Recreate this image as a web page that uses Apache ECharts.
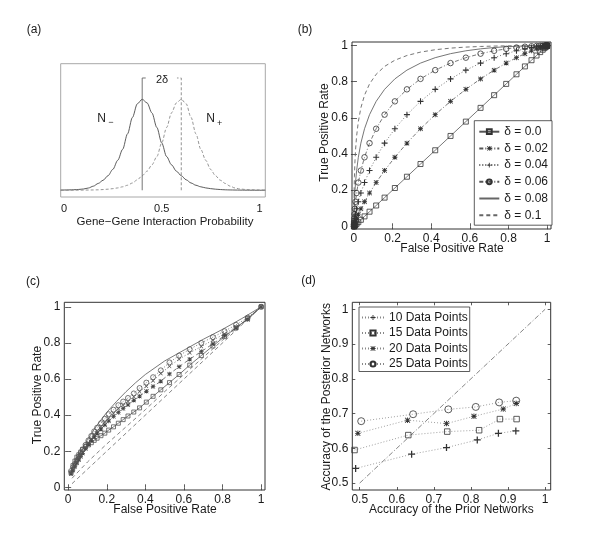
<!DOCTYPE html>
<html><head><meta charset="utf-8">
<script src="https://cdn.jsdelivr.net/npm/echarts@6/dist/echarts.min.js"></script>
<style>html,body{margin:0;padding:0;background:#fff}#c{width:600px;height:551px}</style>
</head><body><div id="c"></div>
<script>
// ---------- Panel (a): densities ----------
const aX = [-0.017,0,0.025,0.05,0.075,0.1,0.125,0.15,0.175,0.2,0.225,0.25,0.275,0.3,0.325,0.35,0.375,0.4,0.425,0.45,0.475,0.5,0.525,0.55,0.575,0.6,0.625,0.65,0.675,0.7,0.725,0.75,0.775,0.8,0.825,0.85,0.875,0.9,0.925,0.95,0.975,1,1.03];
const negDensity = [0.002,0.003,0.004,0.006,0.009,0.014,0.025,0.045,0.075,0.11,0.16,0.23,0.33,0.45,0.62,0.8,0.95,1.0,0.96,0.85,0.69,0.52,0.37,0.28,0.21,0.16,0.115,0.08,0.055,0.038,0.026,0.018,0.012,0.008,0.005,0.0035,0.0025,0.0018,0.0012,0.0008,0.0005,0.0003,0.0002];
const posDensity = [0.0002,0.0003,0.0005,0.0008,0.0012,0.0018,0.0025,0.0035,0.005,0.008,0.012,0.018,0.026,0.038,0.055,0.08,0.115,0.16,0.21,0.28,0.37,0.52,0.69,0.85,0.96,1.0,0.95,0.8,0.62,0.45,0.33,0.23,0.16,0.11,0.075,0.045,0.025,0.014,0.009,0.006,0.004,0.003,0.002];
const meanNeg = 0.4, meanPos = 0.6, bracketTop = 1.234;
const aTicks = [0, 0.5, 1];

// ---------- Panel (b): ROC curves ----------
const bNames = ['δ = 0.0','δ = 0.02','δ = 0.04','δ = 0.06','δ = 0.08','δ = 0.1'];
const rocFpr = [0,0.0002,0.0003,0.0007,0.0013,0.0026,0.0047,0.0082,0.0139,0.0228,0.0359,0.0548,0.0808,0.1151,0.1587,0.2119,0.2743,0.3446,0.4207,0.5,0.5793,0.6554,0.7257,0.7881,0.8413,0.8849,0.9192,0.9452,0.9641,0.9772,0.9861,0.9918,0.9953,0.9974,0.9987,0.9993,0.9997,0.9998,1];
const tprD00 = [0,0.0002,0.0003,0.0007,0.0013,0.0026,0.0047,0.0082,0.0139,0.0228,0.0359,0.0548,0.0808,0.1151,0.1587,0.2119,0.2743,0.3446,0.4207,0.5,0.5793,0.6554,0.7257,0.7881,0.8413,0.8849,0.9192,0.9452,0.9641,0.9772,0.9861,0.9918,0.9953,0.9974,0.9987,0.9993,0.9997,0.9998,1];
const tprD02 = [0,0.001,0.0019,0.0035,0.0062,0.0107,0.0179,0.0287,0.0446,0.0668,0.0968,0.1357,0.1841,0.242,0.3085,0.3821,0.4602,0.5398,0.6179,0.6915,0.758,0.8159,0.8643,0.9032,0.9332,0.9554,0.9713,0.9821,0.9893,0.9938,0.9965,0.9981,0.999,0.9995,0.9998,0.9999,0.9999,1,1];
const tprD04 = [0,0.0035,0.0062,0.0107,0.0179,0.0287,0.0446,0.0668,0.0968,0.1357,0.1841,0.242,0.3085,0.3821,0.4602,0.5398,0.6179,0.6915,0.758,0.8159,0.8643,0.9032,0.9332,0.9554,0.9713,0.9821,0.9893,0.9938,0.9965,0.9981,0.999,0.9995,0.9998,0.9999,0.9999,1,1,1,1];
const tprD06 = [0,0.0107,0.0179,0.0287,0.0446,0.0668,0.0968,0.1357,0.1841,0.242,0.3085,0.3821,0.4602,0.5398,0.6179,0.6915,0.758,0.8159,0.8643,0.9032,0.9332,0.9554,0.9713,0.9821,0.9893,0.9938,0.9965,0.9981,0.999,0.9995,0.9998,0.9999,0.9999,1,1,1,1,1,1];
const tprD08 = [0,0.0287,0.0446,0.0668,0.0968,0.1357,0.1841,0.242,0.3085,0.3821,0.4602,0.5398,0.6179,0.6915,0.758,0.8159,0.8643,0.9032,0.9332,0.9554,0.9713,0.9821,0.9893,0.9938,0.9965,0.9981,0.999,0.9995,0.9998,0.9999,0.9999,1,1,1,1,1,1,1,1];
const tprD10 = [0,0.0808,0.1151,0.1587,0.2119,0.2743,0.3446,0.4207,0.5,0.5793,0.6554,0.7257,0.7881,0.8413,0.8849,0.9192,0.9452,0.9641,0.9772,0.9861,0.9918,0.9953,0.9974,0.9987,0.9993,0.9997,0.9998,0.9999,0.9999,1,1,1,1,1,1,1,1,1,1];
const rateTicks = [0,0.2,0.4,0.6,0.8,1];

// ---------- Panel (c) ----------
const cFpr = [0.015,0.025,0.035,0.045,0.055,0.065,0.075,0.09,0.105,0.12,0.135,0.15,0.17,0.19,0.21,0.235,0.26,0.285,0.31,0.34,0.37,0.405,0.44,0.48,0.525,0.575,0.63,0.69,0.75,0.81,0.87,0.93,1.0];
const cCircle = [0.09,0.11,0.13,0.15,0.17,0.19,0.21,0.235,0.26,0.285,0.31,0.33,0.355,0.38,0.405,0.43,0.455,0.475,0.495,0.52,0.55,0.58,0.61,0.648,0.692,0.73,0.765,0.8,0.832,0.865,0.9,0.94,1.0];
const cCross = [0.08,0.1,0.12,0.14,0.158,0.176,0.194,0.22,0.245,0.268,0.29,0.31,0.335,0.36,0.383,0.41,0.435,0.455,0.475,0.502,0.53,0.56,0.59,0.63,0.67,0.71,0.745,0.78,0.815,0.85,0.888,0.93,1.0];
const cStar = [0.075,0.095,0.115,0.135,0.152,0.17,0.188,0.213,0.238,0.26,0.28,0.3,0.322,0.345,0.367,0.392,0.415,0.437,0.457,0.482,0.505,0.532,0.558,0.588,0.628,0.668,0.71,0.752,0.795,0.84,0.883,0.93,1.0];
const cSquare = [0.08,0.12,0.145,0.167,0.18,0.195,0.21,0.225,0.235,0.247,0.26,0.272,0.286,0.3,0.317,0.335,0.355,0.375,0.395,0.417,0.44,0.472,0.504,0.54,0.58,0.625,0.677,0.73,0.783,0.835,0.883,0.935,1.0];
const cTopX = [0.01,0.03,0.06,0.1,0.15,0.2,0.25,0.3,0.35,0.4,0.5,0.6,0.7,0.8,0.9,1.0];
const cTopY = [0.08,0.13,0.19,0.265,0.345,0.415,0.475,0.53,0.58,0.625,0.70,0.76,0.82,0.875,0.935,1.0];
const cMidX = [0.02,0.1,0.2,0.3,0.4,0.5,0.6,0.7,0.8,0.9,1.0];
const cMidY = [0.05,0.14,0.24,0.335,0.43,0.53,0.625,0.72,0.815,0.905,1.0];
const cDiag = [0.02,1.0];

// ---------- Panel (d) ----------
const dNames = ['10 Data Points','15 Data Points','20 Data Points','25 Data Points'];
const prior10 = [0.489,0.640,0.734,0.817,0.874,0.921], post10 = [0.542,0.583,0.602,0.624,0.643,0.650];
const prior15 = [0.486,0.631,0.736,0.822,0.878,0.923], post15 = [0.595,0.638,0.648,0.652,0.684,0.684];
const prior20 = [0.495,0.629,0.734,0.808,0.887,0.922], post20 = [0.643,0.681,0.671,0.692,0.713,0.729];
const prior25 = [0.504,0.644,0.739,0.813,0.876,0.922], post25 = [0.678,0.698,0.712,0.719,0.732,0.737];
const dDiag = [0.5,1.0];
const accTicks = [0.5,0.6,0.7,0.8,0.9,1];

// ---------- rendering ----------
const FONT = 'Liberation Sans';
const INK = '#1a1a1a';
const LN = '#555';
const MK = '#333';
const zip = (xs, ys) => xs.map((x, i) => [x, ys[i]]);
const PLUS = 'path://M4.1,0H5.9V4.1H10V5.9H5.9V10H4.1V5.9H0V4.1H4.1Z';
const CROSS = 'path://M1.2,0L5,3.8L8.8,0L10,1.2L6.2,5L10,8.8L8.8,10L5,6.2L1.2,10L0,8.8L3.8,5L0,1.2Z';
const STAR = 'path://M4.2,0H5.8V4.2H10V5.8H5.8V10H4.2V5.8H0V4.2H4.2Z M1.1,0L5,3.9L8.9,0L10,1.1L6.1,5L10,8.9L8.9,10L5,6.1L1.1,10L0,8.9L3.9,5L0,1.1Z';

function tickAxis(grid, pos, min, max, ticks, labelled, margin) {
  return {
    gridIndex: grid, type: 'value', position: pos, min: min, max: max,
    axisLine: {show: false}, splitLine: {show: false},
    axisTick: {show: true, inside: true, length: 3, customValues: ticks, lineStyle: {color: '#333', width: 0.8}},
    axisLabel: labelled ? {show: true, customValues: ticks, fontSize: 12, fontFamily: FONT, color: INK, margin: margin} : {show: false}
  };
}
function hollow(symbol, size, col) {
  return {symbol: symbol, symbolSize: size, itemStyle: {color: 'rgba(255,255,255,0)', borderColor: col || MK, borderWidth: 0.8}};
}
function solidMark(symbol, size, col) {
  return {symbol: symbol, symbolSize: size, itemStyle: {color: col || MK, borderWidth: 0}};
}
function ser(name, xi, data, lineType, marker, lineColor, width) {
  const s = Object.assign({
    name: name, type: 'line', xAxisIndex: xi, yAxisIndex: xi, data: data,
    animation: false, silent: true,
    lineStyle: {color: lineColor || LN, width: width || 0.8, type: lineType},
    z: 3
  }, marker || {symbol: 'none'});
  if (!marker) s.itemStyle = {color: lineColor || LN};
  return s;
}
function txt(t, x, y, size, opts) {
  opts = opts || {};
  return {type: 'text', x: x, y: y, rotation: opts.rot || 0, z: 10,
    style: {text: t, font: size + 'px "' + FONT + '"', fill: INK,
      align: opts.align || 'center', verticalAlign: 'middle',
      textAlign: opts.align || 'center', textVerticalAlign: 'middle'}};
}
const noMark = {opacity: 0, color: 'rgba(0,0,0,0)', borderWidth: 0};

const option = {
  animation: false,
  backgroundColor: '#fff',
  textStyle: {fontFamily: FONT},
  grid: [
    {left: 60.7, top: 63.7, width: 204.6, height: 133.3, show: true, borderColor: '#a8a8a8', borderWidth: 1},
    {left: 352, top: 42, width: 199, height: 187, show: true, borderColor: '#333', borderWidth: 1},
    {left: 64.3, top: 302.3, width: 200.7, height: 187.7, show: true, borderColor: '#333', borderWidth: 1},
    {left: 352.3, top: 302.3, width: 198.4, height: 187.7, show: true, borderColor: '#333', borderWidth: 1}
  ],
  xAxis: [
    {gridIndex: 0, type: 'value', min: -0.017, max: 1.03, axisLine: {show: false}, axisTick: {show: false}, splitLine: {show: false},
      axisLabel: {customValues: aTicks, fontSize: 11, fontFamily: FONT, color: INK, margin: 6}},
    tickAxis(1, 'bottom', -0.01, 1.02, rateTicks, true, 4),
    tickAxis(1, 'top', -0.01, 1.02, rateTicks, false),
    tickAxis(2, 'bottom', -0.02, 1.02, rateTicks, true, 4),
    tickAxis(2, 'top', -0.02, 1.02, rateTicks, false),
    tickAxis(3, 'bottom', 0.48, 1.015, accTicks, true, 4),
    tickAxis(3, 'top', 0.48, 1.015, accTicks, false)
  ],
  yAxis: [
    {gridIndex: 0, type: 'value', min: -0.074, max: 1.391, show: false},
    tickAxis(1, 'left', -0.015, 1.02, rateTicks, true, 4),
    tickAxis(1, 'right', -0.015, 1.02, rateTicks, false),
    tickAxis(2, 'left', -0.015, 1.025, rateTicks, true, 4),
    tickAxis(2, 'right', -0.015, 1.025, rateTicks, false),
    tickAxis(3, 'left', 0.48, 1.02, accTicks, true, 4),
    tickAxis(3, 'right', 0.48, 1.02, accTicks, false)
  ],
  legend: [
    {data: [bNames[0], bNames[1], bNames[2], bNames[3], {name: bNames[4], itemStyle: noMark}, {name: bNames[5], itemStyle: noMark}],
      orient: 'vertical', left: 474.3, top: 120.7, padding: [5, 4, 4, 4], itemGap: 4.7, itemWidth: 20, itemHeight: 6,
      backgroundColor: '#fff', borderColor: '#333', borderWidth: 0.8, borderRadius: 0, selectedMode: false,
      textStyle: {fontSize: 12, fontFamily: FONT, color: INK}},
    {data: dNames, orient: 'vertical', left: 359, top: 307, padding: [4.5, 2, 1.5, 2], itemGap: 3.5, itemWidth: 22, itemHeight: 6.5,
      backgroundColor: '#fff', borderColor: '#333', borderWidth: 0.8, borderRadius: 0, selectedMode: false,
      textStyle: {fontSize: 12, fontFamily: FONT, color: INK}}
  ],
  series: [
    // (a)
    Object.assign(ser('neg', 0, zip(aX, negDensity), 'solid', null, '#4a4a4a', 0.9), {smooth: 0.3, smoothMonotone: 'x'}),
    Object.assign(ser('pos', 0, zip(aX, posDensity), [3, 2], null, '#8a8a8a', 0.9), {smooth: 0.3, smoothMonotone: 'x'}),
    ser('negMean', 0, [[meanNeg, 0], [meanNeg, bracketTop], [meanNeg + 0.018, bracketTop]], 'solid', null, '#666', 0.9),
    ser('posMean', 0, [[meanPos, 0], [meanPos, bracketTop], [meanPos - 0.022, bracketTop]], [3, 2], null, '#888', 0.9),
    // (b)
    ser(bNames[0], 1, zip(rocFpr, tprD00), 'solid', hollow('rect', 5)),
    ser(bNames[1], 1, zip(rocFpr, tprD02), [4, 2, 1, 2], solidMark(STAR, 5)),
    ser(bNames[2], 1, zip(rocFpr, tprD04), [1, 2], solidMark(PLUS, 6)),
    ser(bNames[3], 1, zip(rocFpr, tprD06), [4, 2, 1, 2], hollow('circle', 5.5)),
    ser(bNames[4], 1, zip(rocFpr, tprD08), 'solid', null, '#666', 0.9),
    ser(bNames[5], 1, zip(rocFpr, tprD10), [4, 3], null, '#666', 0.9),
    // (c)
    ser('cTop', 3, zip(cTopX, cTopY), 'solid', null, '#555', 0.8),
    ser('cMid', 3, zip(cMidX, cMidY), [4, 3], null, '#666', 0.8),
    ser('cDiag', 3, zip(cDiag, cDiag), [4, 3], null, '#666', 0.8),
    ser('cSquare', 3, zip(cFpr, cSquare), 'solid', hollow('rect', 4, '#555')),
    ser('cStar', 3, zip(cFpr, cStar), [4, 3], solidMark(STAR, 4.5, '#444')),
    ser('cCross', 3, zip(cFpr, cCross), [1, 2], solidMark(CROSS, 4, '#555')),
    ser('cCircle', 3, zip(cFpr, cCircle), [1, 2], hollow('circle', 5, '#555')),
    // (d)
    ser('dDiag', 5, zip(dDiag, dDiag), [5, 2, 1, 2], null, '#666', 0.8),
    ser(dNames[0], 5, zip(prior10, post10), [1, 2], solidMark(PLUS, 7), '#888'),
    ser(dNames[1], 5, zip(prior15, post15), [1, 2], hollow('rect', 5.5), '#888'),
    ser(dNames[2], 5, zip(prior20, post20), [1, 2], solidMark(STAR, 5.5), '#888'),
    ser(dNames[3], 5, zip(prior25, post25), [1, 2], hollow('circle', 7), '#888')
  ],
  graphic: [
    txt('(a)', 34, 30, 12),
    txt('(b)', 305, 30, 12),
    txt('(c)', 33, 281.5, 12),
    txt('(d)', 308.5, 281, 12),
    txt('2δ', 162, 80, 11),
    txt('N', 101.5, 119, 12),
    txt('−', 111, 122.5, 9),
    txt('N', 210.5, 119, 12),
    txt('+', 219.7, 123.5, 9),
    txt('Gene−Gene Interaction Probability', 165, 222.3, 11.5),
    txt('True Positive Rate', 325, 132.5, 12, {rot: Math.PI / 2}),
    txt('False Positive Rate', 452, 248.3, 12),
    txt('True Positive Rate', 37.5, 395, 12, {rot: Math.PI / 2}),
    txt('False Positive Rate', 165, 509.3, 12),
    txt('Accuracy of the Posterior Networks', 326.7, 396.7, 12, {rot: Math.PI / 2}),
    txt('Accuracy of the Prior Networks', 451.3, 510, 12)
  ]
};
const chart = echarts.init(document.getElementById('c'), null, {renderer: 'canvas'});
chart.setOption(option);
</script></body></html>
